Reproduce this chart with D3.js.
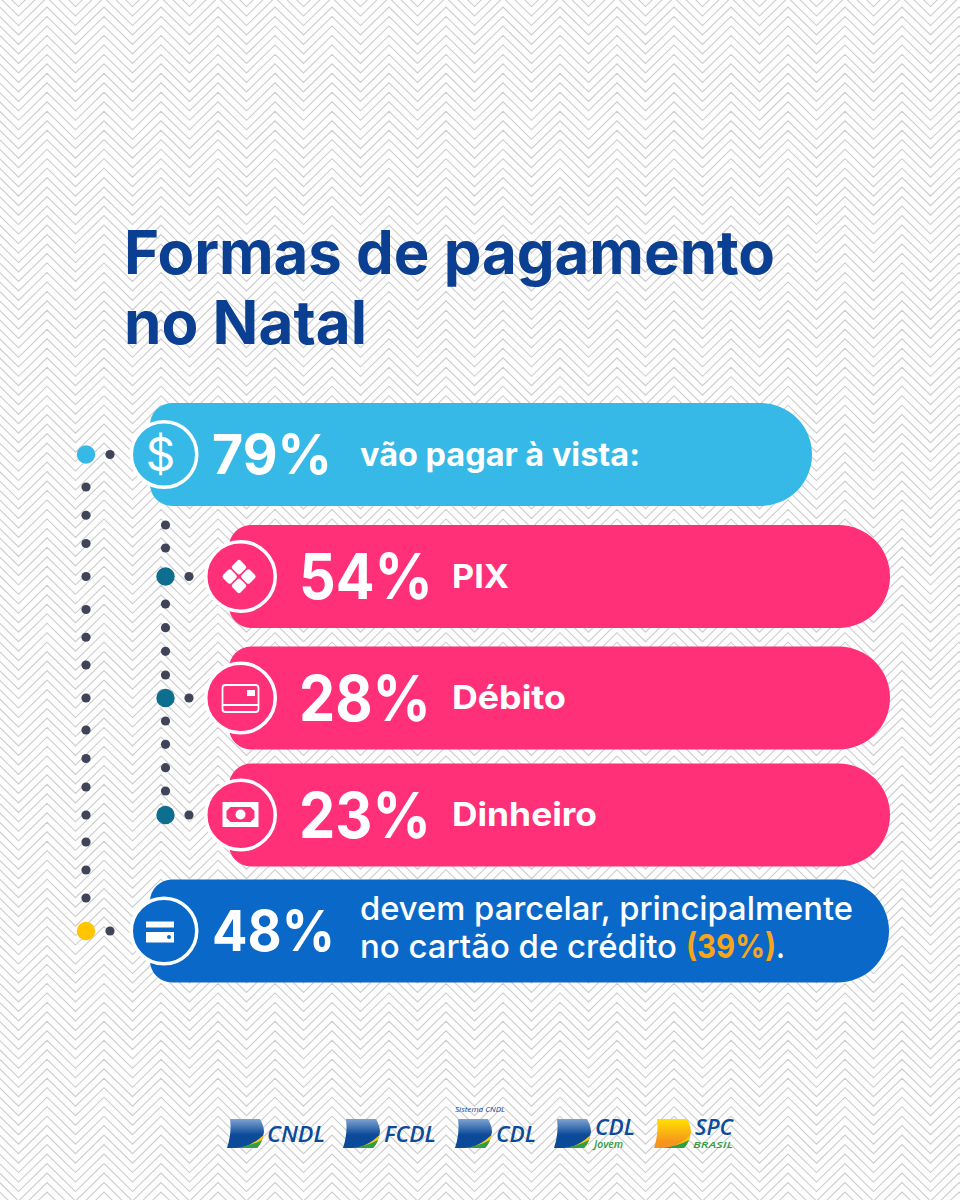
<!DOCTYPE html>
<html>
<head>
<meta charset="utf-8">
<script src="https://cdn.jsdelivr.net/npm/d3@7"></script>
<style>
html,body{margin:0;padding:0;background:#fdfdfd;}
svg{display:block;}
text{font-family:Inter,sans-serif;}
</style>
</head>
<body>
<div id="chart"></div>
<script>
// data
var titleLines = ["Formas de pagamento", "no Natal"];
var categories = ["à vista", "PIX", "Débito", "Dinheiro", "parcelado"];
var values = [79, 54, 28, 23, 48];
var logoNames = ["CNDL", "FCDL", "CDL", "CDL", "SPC"];

var W = 960, H = 1200;
var svg = d3.select("#chart").append("svg").attr("width", W).attr("height", H);

// scales: rows are not evenly spaced in the picture, so ordinal
var rowY = d3.scaleOrdinal(categories, [454.5, 576.5, 698, 815, 931]);
var barLeft = d3.scaleOrdinal(categories, [150, 229, 229, 229, 150]);
var barRight = d3.scaleOrdinal(categories, [812, 890, 890, 890, 889]);
var iconX = d3.scaleOrdinal(categories, [164, 240.5, 240.5, 240.5, 164]);
var iconR = d3.scaleOrdinal(categories, [32.75, 34.75, 34.75, 34.75, 32.75]);
var barColor = d3.scaleOrdinal(categories, ["#36b9e6", "#ff2f78", "#ff2f78", "#ff2f78", "#0a68c9"]);
var valueX = d3.scaleOrdinal(categories, [212, 299, 299, 299, 212]);
var valueSize = d3.scaleOrdinal(categories, [55, 63, 63, 63, 57]);
var valueLen = d3.scaleOrdinal(categories, [120, 134, 132, 132, 123]);

// chevron background
var chevron = d3.line();
var bg = svg.append("g").attr("fill", "none").attr("stroke", "#cdcdcd").attr("stroke-width", 1.1);
d3.range(-6, 130).forEach(function(k){
    var y0 = 7 + k * 9.48;
    var pts = d3.range(0, 38).map(function(i){
        return [-67 + i * 28.5, y0 + (i % 2 === 0 ? 0 : 28)];
    });
    bg.append("path").attr("d", chevron(pts));
});

// title
svg.selectAll("text.title").data(titleLines).enter().append("text")
    .attr("class", "title")
    .attr("x", 124)
    .attr("y", function(d, i){ return 274 + i * 70; })
    .attr("font-size", 60)
    .attr("font-weight", 700)
    .attr("fill", "#0b3f91")
    .attr("textLength", function(d, i){ return i === 0 ? 651 : 243; })
    .attr("lengthAdjust", "spacingAndGlyphs")
    .text(function(d){ return d; });

function barPath(x0, x1, cy){
    var h = 103, r = 22, R = 51.5, t = cy - h / 2, b = cy + h / 2;
    return "M" + (x0 + r) + "," + t + "H" + (x1 - R) +
        "A" + R + "," + R + " 0 0 1 " + x1 + "," + (t + R) +
        "A" + R + "," + R + " 0 0 1 " + (x1 - R) + "," + b +
        "H" + (x0 + r) + "A" + r + "," + r + " 0 0 1 " + x0 + "," + (b - r) +
        "V" + (t + r) + "A" + r + "," + r + " 0 0 1 " + (x0 + r) + "," + t + "Z";
}

// connectors
var dotColor = "#3f4459";
function dotsBetween(x, a, b, n){
    var s = d3.scaleLinear().domain([0, Math.max(n - 1, 1)]).range([a, b]);
    svg.append("g").selectAll("circle").data(d3.range(n)).enter().append("circle")
        .attr("cx", x).attr("cy", function(d){ return s(d); })
        .attr("r", 4.6).attr("fill", dotColor);
}
var col1 = 86, col2 = 165.5;
dotsBetween(col1, rowY("à vista") + 32.5, rowY("PIX") - 33, 3);
dotsBetween(col1, rowY("PIX"), rowY("PIX"), 1);
dotsBetween(col1, rowY("PIX") + 33, rowY("Débito") - 33, 3);
dotsBetween(col1, rowY("Débito"), rowY("Débito"), 1);
dotsBetween(col1, rowY("Débito") + 32, rowY("Dinheiro") - 28, 3);
dotsBetween(col1, rowY("Dinheiro"), rowY("Dinheiro"), 1);
dotsBetween(col1, rowY("Dinheiro") + 27, rowY("parcelado") - 33, 3);
dotsBetween(col2, rowY("PIX") - 51.5, rowY("PIX") - 28.5, 2);
dotsBetween(col2, rowY("PIX") + 27.5, rowY("Débito") - 23, 4);
dotsBetween(col2, rowY("Débito") + 23, rowY("Dinheiro") - 24, 4);

var ends = [
    {cat: "à vista", x: col1, sx: 110, color: "#36b9e6"},
    {cat: "PIX", x: col2, sx: 189, color: "#0e6e8f"},
    {cat: "Débito", x: col2, sx: 189, color: "#0e6e8f"},
    {cat: "Dinheiro", x: col2, sx: 189, color: "#0e6e8f"},
    {cat: "parcelado", x: col1, sx: 110, color: "#ffc600"}
];
ends.forEach(function(e){
    svg.append("circle").attr("cx", e.x).attr("cy", rowY(e.cat)).attr("r", 9.2).attr("fill", e.color);
    svg.append("circle").attr("cx", e.sx).attr("cy", rowY(e.cat)).attr("r", 4.6).attr("fill", dotColor);
});

// bars
var rows = svg.selectAll("g.row").data(categories).enter().append("g").attr("class", "row");
rows.append("path")
    .attr("d", function(d){ return barPath(barLeft(d), barRight(d), rowY(d)); })
    .attr("fill", function(d){ return barColor(d); });
rows.append("circle")
    .attr("cx", function(d){ return iconX(d); })
    .attr("cy", function(d){ return rowY(d); })
    .attr("r", function(d){ return iconR(d); })
    .attr("fill", function(d){ return barColor(d); })
    .attr("stroke", "#fff")
    .attr("stroke-width", 3.5);
rows.append("text")
    .attr("x", function(d){ return valueX(d); })
    .attr("y", function(d){ return rowY(d) + 19 + (valueSize(d) - 55) * 0.45; })
    .attr("font-size", function(d){ return valueSize(d); })
    .attr("font-weight", 700)
    .attr("fill", "#fff")
    .attr("textLength", function(d){ return valueLen(d); })
    .attr("lengthAdjust", "spacingAndGlyphs")
    .text(function(d, i){ return values[i] + "%"; });

// labels
function label(str, x, y, size, weight, len, color){
    return svg.append("text").attr("x", x).attr("y", y)
        .attr("font-size", size).attr("font-weight", weight).attr("fill", color || "#fff")
        .attr("textLength", len).attr("lengthAdjust", "spacingAndGlyphs").text(str);
}
label("vão pagar à vista:", 360, 466, 32, 700, 280);
label("PIX", 452, 588, 33, 700, 57);
label("Débito", 452, 709, 33, 700, 114);
label("Dinheiro", 452, 826, 33, 700, 145);
label("devem parcelar, principalmente", 360, 920, 33, 500, 493);
label("no cartão de crédito", 360, 958, 33, 500, 317);
var pct = label("", 686, 958, 33, 700, 99, "#f9a51a");
pct.append("tspan").text("(39%)");
pct.append("tspan").attr("fill", "#fff").attr("font-weight", 500).text(".");

// icons
svg.append("text").attr("x", iconX("à vista") - 3.5).attr("y", rowY("à vista") + 16)
    .attr("text-anchor", "middle").attr("font-size", 46).attr("font-weight", 400)
    .attr("fill", "#fff").text("$");

var pix = svg.append("g").attr("transform", "translate(" + (iconX("PIX") - 1.5) + "," + rowY("PIX") + ") rotate(45)");
[[-6.6, -6.6], [6.6, -6.6], [-6.6, 6.6], [6.6, 6.6]].forEach(function(p){
    pix.append("rect").attr("x", p[0] - 5.8).attr("y", p[1] - 5.8).attr("width", 11.6).attr("height", 11.6)
        .attr("rx", 2.5).attr("fill", "#fff");
});

var deb = svg.append("g").attr("transform", "translate(" + iconX("Débito") + "," + rowY("Débito") + ")");
deb.append("rect").attr("x", -18).attr("y", -13).attr("width", 36).attr("height", 27).attr("rx", 3)
    .attr("fill", "none").attr("stroke", "#fff").attr("stroke-width", 1.8);
deb.append("line").attr("x1", -18).attr("x2", 18).attr("y1", 7).attr("y2", 7).attr("stroke", "#fff").attr("stroke-width", 1.8);
deb.append("rect").attr("x", 6.5).attr("y", -8).attr("width", 8).attr("height", 6).attr("fill", "#fff");

var din = svg.append("g").attr("transform", "translate(" + iconX("Dinheiro") + "," + rowY("Dinheiro") + ")");
din.append("rect").attr("x", -18).attr("y", -13).attr("width", 36).attr("height", 25).attr("fill", "#fff");
din.append("path").attr("d", "M-10,-8H10L14,-4V3L10,7H-10L-14,3V-4Z").attr("fill", "#ff2f78");
din.append("circle").attr("cx", 0).attr("cy", -0.5).attr("r", 5).attr("fill", "#fff");

var car = svg.append("g").attr("transform", "translate(" + (iconX("parcelado") - 3.5) + "," + rowY("parcelado") + ")");
car.append("rect").attr("x", -14.5).attr("y", -9.5).attr("width", 28).attr("height", 21).attr("fill", "#fff");
car.append("rect").attr("x", -14.5).attr("y", -3.5).attr("width", 28).attr("height", 4.5).attr("fill", "#0a68c9");
car.append("circle").attr("cx", 8.5).attr("cy", 6).attr("r", 2).attr("fill", "#0a68c9");

// logos
var defs = svg.append("defs");
function grad(id, c0, c1, mid){
    var g = defs.append("linearGradient").attr("id", id).attr("x1", 0).attr("y1", 0).attr("x2", 0).attr("y2", 1);
    g.append("stop").attr("offset", "0").attr("stop-color", c0);
    g.append("stop").attr("offset", mid).attr("stop-color", c1);
}
grad("gBlue", "#7ea3d1", "#0b4a98", 0.55);
grad("gYel", "#ffe100", "#f7941d", 0.8);

function logoMark(x, y, fillId){
    var g = svg.append("g").attr("transform", "translate(" + x + "," + y + ")");
    var shape = "M3,0H33Q37,7 37,13Q35,24 30,29H0Q5,14 3,0Z";
    g.append("path").attr("d", shape).attr("fill", "url(#" + fillId + ")");
    g.append("path").attr("d", "M14,29Q26,26 36.5,16Q35,24 30,29Z").attr("fill", "#f2c811");
    g.append("path").attr("d", "M9,29Q24,27 35,21Q33,26 30,29Z").attr("fill", "#2f9e44");
}
function logoText(str, x, y, size, color, len, weight){
    svg.append("text").attr("x", x).attr("y", y)
        .attr("font-size", size).attr("font-weight", weight || 600).attr("font-style", "italic")
        .attr("fill", color).attr("textLength", len).attr("lengthAdjust", "spacingAndGlyphs")
        .style("font-family", "'Open Sans',sans-serif").text(str);
}
var navy = "#0b4a98", green = "#2f9e44";
logoMark(227, 1119, "gBlue"); logoText(logoNames[0], 267, 1142, 22, navy, 58);
logoMark(343, 1119, "gBlue"); logoText(logoNames[1], 384, 1142, 22, navy, 52);
logoMark(455, 1119, "gBlue"); logoText(logoNames[2], 496, 1142, 22, navy, 40);
logoMark(554, 1119, "gBlue"); logoText(logoNames[3], 595, 1135, 22, navy, 40);
logoMark(654, 1119, "gYel"); logoText(logoNames[4], 695, 1135, 22, navy, 38);
logoText("Sistema CNDL", 455, 1112, 7.5, navy, 50, 400);
logoText("Jovem", 594, 1148, 10, green, 29);
logoText("BRASIL", 693, 1148, 9, green, 40);
</script>
</body>
</html>
